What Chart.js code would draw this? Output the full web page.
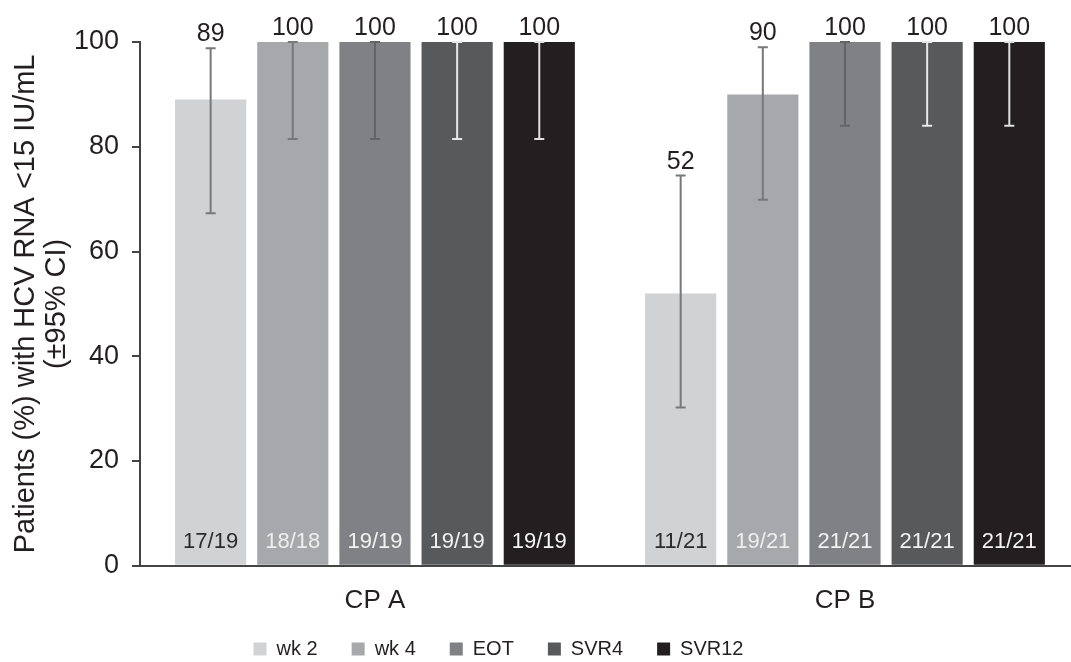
<!DOCTYPE html>
<html>
<head>
<meta charset="utf-8">
<script src="https://cdn.jsdelivr.net/npm/chart.js@4.4.1/dist/chart.umd.min.js"></script>
<style>
  html, body { margin: 0; padding: 0; background: #fff; overflow: hidden; }
  #wrap { width: 1080px; height: 662px; position: relative; }
</style>
</head>
<body>
<div id="wrap"><canvas id="plots"></canvas></div>
<script>
// Data
var groups = ['CP A', 'CP B'];
var timepoints = ['wk 2', 'wk 4', 'EOT', 'SVR4', 'SVR12'];
var pct = [[89, 52], [100, 90], [100, 100], [100, 100], [100, 100]];
var ciLow = [[67.3, 30.2], [81.5, 69.9], [81.5, 84.0], [81.5, 84.0], [81.5, 84.0]];
var ciHigh = [[98.8, 74.5], [100, 99.0], [100, 100], [100, 100], [100, 100]];
var nLabels = [['17/19', '11/21'], ['18/18', '19/21'], ['19/19', '21/21'], ['19/19', '21/21'], ['19/19', '21/21']];
var yTicks = [0, 20, 40, 60, 80, 100];

// Styling
var barColors = ['#d1d2d4', '#a7a8ab', '#808184', '#58595b', '#231f20'];
var errColors = ['#77787b', '#77787b', '#636466', '#e8e8e8', '#e0e0e0'];
var nColors = ['#2b2b2b', '#eeeeee', '#f2f2f2', '#f2f2f2', '#f5f5f5'];
var FONT = "'Liberation Sans', Arial, sans-serif";
var INK = '#231f20';

Chart.defaults.font.family = FONT;
Chart.defaults.color = INK;

// error bars, value labels and n/N labels, placed through the chart's scales
var annotate = {
  id: 'annotate',
  afterDatasetsDraw: function (chart) {
    var ctx = chart.ctx;
    var y = chart.scales.y;
    ctx.save();
    chart.data.datasets.forEach(function (ds, i) {
      var meta = chart.getDatasetMeta(i);
      meta.data.forEach(function (bar, j) {
        var x = bar.x;
        var yl = y.getPixelForValue(ciLow[i][j]);
        var yh = y.getPixelForValue(ciHigh[i][j]);
        ctx.strokeStyle = errColors[i];
        ctx.lineWidth = 2;
        ctx.beginPath();
        ctx.moveTo(x, yl); ctx.lineTo(x, yh);
        ctx.moveTo(x - 5, yl); ctx.lineTo(x + 5, yl);
        ctx.moveTo(x - 5, yh); ctx.lineTo(x + 5, yh);
        ctx.stroke();

        ctx.fillStyle = INK;
        ctx.font = '25px ' + FONT;
        ctx.textAlign = 'center';
        ctx.textBaseline = 'alphabetic';
        ctx.fillText(String(pct[i][j]), x, yh - 7);

        ctx.fillStyle = nColors[i];
        ctx.font = '22px ' + FONT;
        ctx.textBaseline = 'middle';
        ctx.fillText(nLabels[i][j], x, y.getPixelForValue(0) - 24);
      });
    });
    ctx.restore();
  }
};

// nudge the legend, as in the figure
var legendShift = {
  id: 'legendShift',
  afterLayout: function (chart) {
    chart.legend.left -= 47;
    chart.legend.right -= 47;
    chart.legend.top -= 22;
    chart.legend.bottom -= 22;
  }
};

new Chart(document.getElementById('plots'), {
  type: 'bar',
  data: {
    labels: groups,
    datasets: timepoints.map(function (t, i) {
      return {
        label: t,
        data: pct[i],
        backgroundColor: barColors[i],
        barPercentage: 0.866,
        categoryPercentage: 0.874
      };
    })
  },
  options: {
    responsive: true,
    maintainAspectRatio: false,
    animation: false,
    layout: { padding: { top: 42, left: 11, right: 0, bottom: -29 } },
    plugins: {
      tooltip: { enabled: false },
      legend: {
        position: 'bottom',
        labels: {
          boxWidth: 13,
          boxHeight: 13,
          padding: 34,
          color: INK,
          font: { size: 20 }
        }
      }
    },
    scales: {
      x: {
        grid: { display: false },
        border: { display: true, color: '#444', width: 2 },
        ticks: { padding: 11, color: INK, font: { size: 26 } }
      },
      y: {
        min: 0,
        max: 100,
        afterBuildTicks: function (axis) {
          axis.ticks = yTicks.map(function (v) { return { value: v }; });
        },
        grid: { drawOnChartArea: false, drawTicks: true, tickLength: 8, color: '#444', lineWidth: 2 },
        border: { display: true, color: '#444', width: 2 },
        ticks: { padding: 13, color: INK, font: { size: 27 } },
        title: {
          display: true,
          text: ['Patients (%) with HCV RNA <15 IU/mL', '(\u00b195% CI)'],
          color: INK,
          font: { size: 29, lineHeight: 1.05 },
          padding: { top: 0, bottom: -11 }
        }
      }
    }
  },
  plugins: [annotate, legendShift]
});
</script>
</body>
</html>
